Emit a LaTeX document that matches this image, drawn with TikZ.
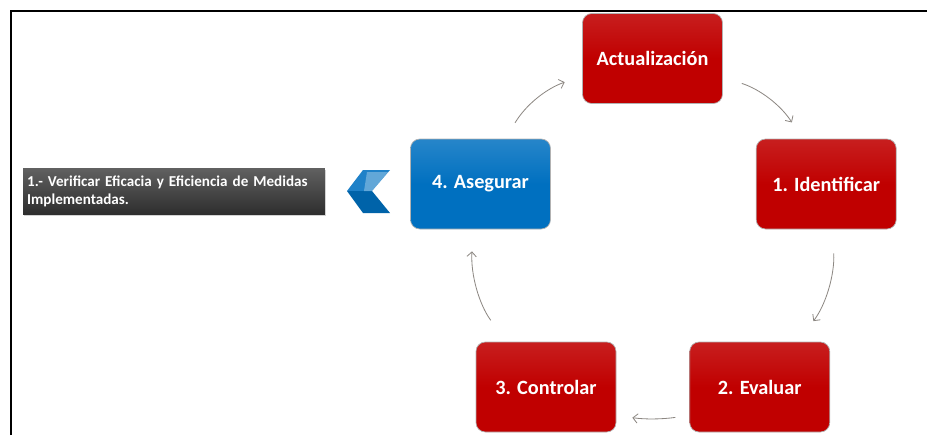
\documentclass[tikz,border=0pt]{standalone}
\usepackage{fontspec}
\setmainfont{Carlito}
\usepackage{tikz}
\usetikzlibrary{positioning, arrows.meta, shadows}

\definecolor{rojo}{HTML}{C00000}
\definecolor{azul}{HTML}{0070C0}
\definecolor{flecha}{HTML}{8C8782}

\begin{document}
\begin{tikzpicture}[x=0.03cm, y=-0.03cm, >={Straight Barb[length=4pt, width=8pt]},
    paso/.style={rectangle, rounded corners=8pt, minimum width=4.2cm, minimum height=2.7cm,
        draw=black!30, line width=0.6pt, text=white, font=\fontsize{17.3}{20}\selectfont\bfseries},
    pasorojo/.style={paso, top color=rojo!88!white, bottom color=rojo, middle color=rojo},
    pasoazul/.style={paso, top color=azul!85!white, bottom color=azul, middle color=azul},
    nota/.style={rectangle, top color=black!62, bottom color=black!82, text=white,
        inner xsep=3.5pt, text width=8.81cm, minimum height=1.38cm, align=left,
        font=\fontsize{12.9}{15.5}\selectfont\bfseries,
        drop shadow={opacity=0.35, shadow xshift=1pt, shadow yshift=-2pt}},
    ciclo/.style={->, draw=flecha, line width=0.7pt}]

    \useasboundingbox (0,0) rectangle (927,435);

    % marco
    \draw[line width=1.8pt] (11,435) -- (11,11) -- (927,11);

    % pasos del ciclo
    \node[pasoazul] (asegurar) at (480.5,184) {4. Asegurar};
    \node[pasorojo] (identificar) [right=6.15cm of asegurar] {1. Identificar};
    \node[pasorojo] (actual) at (652.5,58.5) {Actualización};
    \node[pasorojo] (controlar) at (546,387) {3. Controlar};
    \node[pasorojo] (evaluar) [right=2.19cm of controlar] {2. Evaluar};

    % nota del paso 4
    \node[nota] (nota) at (174,191) {1.- Verificar Eficacia y Eficiencia de Medidas\\Implementadas.};

    % chevron
    \fill[azul!88!white] (363,170) -- (390,170) -- (372,191) -- (347,191) -- cycle;
    \fill[azul!88!black] (347,191) -- (372,191) -- (390,213) -- (363,213) -- cycle;
    \fill[white, opacity=0.3] (367,172) -- (388,172) -- (372,191) -- (364,191) -- cycle;

    % flechas
    \draw[ciclo, shorten <=15.7pt, shorten >=15.8pt] (asegurar.61) to[bend left=20] (actual.194);
    \draw[ciclo, shorten <=17pt, shorten >=16.4pt] (actual.345) to[bend left=20] (identificar.118);
    \draw[ciclo, shorten <=20.5pt, shorten >=22pt] (identificar.278) to[bend left=20] (evaluar.50);
    \draw[ciclo, shorten <=12pt, shorten >=13.8pt] (evaluar.202) to[bend left=8] (controlar.338);
    \draw[ciclo, shorten <=22.7pt, shorten >=18.8pt] (controlar.131) to[bend left=20] (asegurar.261);
\end{tikzpicture}
\end{document}
